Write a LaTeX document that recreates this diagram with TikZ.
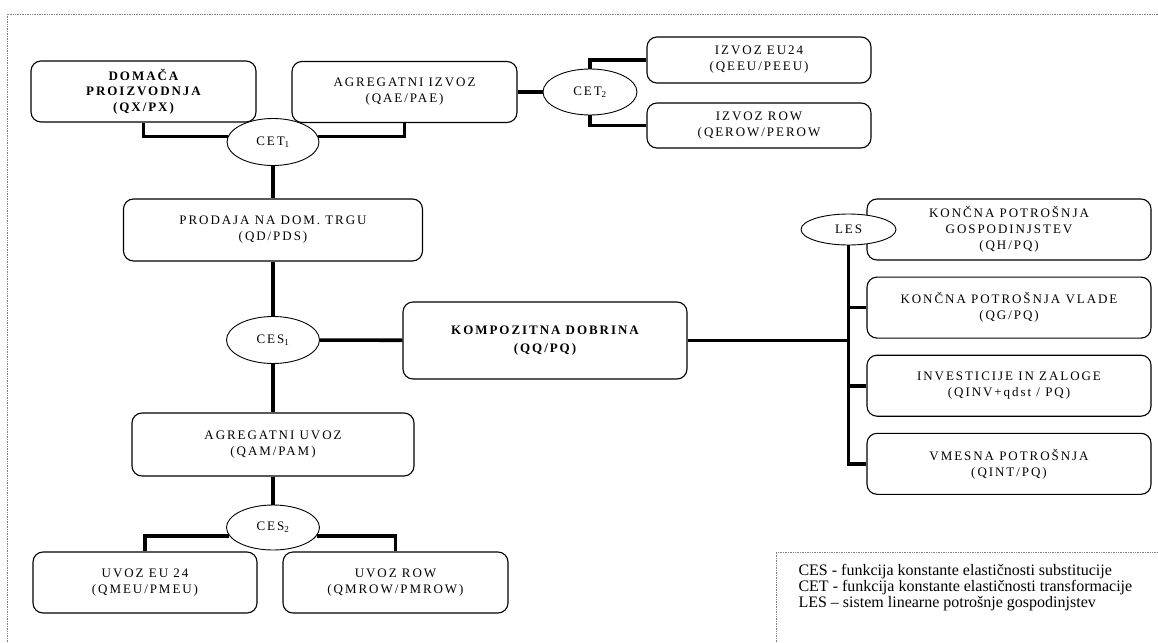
\documentclass[tikz,border=0pt]{standalone}
\usepackage{fontspec}
\setmainfont{Liberation Serif}
\newfontfamily\spaced[LetterSpace=15]{Liberation Serif}
\usetikzlibrary{shapes.geometric}
\usetikzlibrary{positioning}

\begin{document}
\begin{tikzpicture}[x=1pt, y=-1pt, node distance={16pt},
    box/.style = {draw, rounded corners=10pt, line width=1.1pt, align=center, inner sep=0pt, font=\spaced\fontsize{13}{16}\selectfont},
    oval/.style = {draw, ellipse, fill=white, line width=0.9pt, inner sep=0pt, font=\spaced\fontsize{13}{16}\selectfont},
    link/.style = {line width=3.6pt},
    frame/.style = {densely dotted, gray, line width=0.7pt}]
    \useasboundingbox (0,0) rectangle (1158,642);
    \draw[frame] (7,642) -- (7,14) -- (1158,14);
    \draw[frame] (776,642) -- (776,552) -- (1158,552);
    % export side
    \node[box, minimum width=225, minimum height=61, font=\spaced\bfseries\fontsize{13}{15.5}\selectfont] (dom) at (143.5,91.5) {DOMAČA\\PROIZVODNJA\\(QX/PX)};
    \node[box, minimum width=225, minimum height=61] (agiz) at (404.5,92) {AGREGATNI IZVOZ\\(QAE/PAE)};
    \node[oval, minimum width=92, minimum height=47] (cet1) at (273,142) {CET\textsubscript{1}};
    \node[oval, minimum width=94, minimum height=46] (cet2) at (590,92) {CET\textsubscript{2}};
    \node[box, minimum width=224, minimum height=46] (izeu) at (759,60) {IZVOZ EU24\\(QEEU/PEEU)};
    \node[box, minimum width=224, minimum height=45] (izrow) at (759,125.5) {IZVOZ ROW\\(QEROW/PEROW};
    % domestic and import side
    \node[box, minimum width=299, minimum height=62] (prod) at (273,230) {PRODAJA NA DOM. TRGU\\(QD/PDS)};
    \node[oval, minimum width=93, minimum height=47] (ces1) at (273,340) {CES\textsubscript{1}};
    \node[box, minimum width=284, minimum height=77, font=\spaced\bfseries\fontsize{13}{18}\selectfont] (komp) at (545,340.5) {KOMPOZITNA DOBRINA\\(QQ/PQ)};
    \node[box, minimum width=282, minimum height=63] (agu) at (273,444.5) {AGREGATNI UVOZ\\(QAM/PAM)};
    \node[oval, minimum width=93, minimum height=45] (ces2) at (273,527.5) {CES\textsubscript{2}};
    \node[box, minimum width=224, minimum height=61] (uveu) at (145,582.5) {UVOZ EU 24\\(QMEU/PMEU)};
    \node[box, minimum width=225, minimum height=61] (uvrow) at (395.5,582.5) {UVOZ ROW\\(QMROW/PMROW)};
    % demand side
    \node[box, minimum width=284, minimum height=61] (kgos) at (1009,229.5) {KONČNA POTROŠNJA\\GOSPODINJSTEV\\(QH/PQ)};
    \node[box, minimum width=284, minimum height=61] (kvl) [below=of kgos] {KONČNA POTROŠNJA VLADE\\(QG/PQ)};
    \node[box, minimum width=284, minimum height=61] (inv) [below=of kvl] {INVESTICIJE IN ZALOGE\\(QINV+qdst / PQ)};
    \node[box, minimum width=284, minimum height=61] (vm) [below=of inv] {VMESNA POTROŠNJA\\(QINT/PQ)};
    \node[oval, minimum width=95, minimum height=31] (les) at (848.5,229.5) {LES};
    \coordinate (hub) at (les.south |- komp.east);
    \node[align=left, anchor=west, font=\fontsize{16}{16}\selectfont] (legend) at (795,588) {CES - funkcija konstante elastičnosti substitucije\\CET - funkcija konstante elastičnosti transformacije\\LES – sistem linearne potrošnje gospodinjstev};
    % connectors
    \draw[link] (dom.south) |- (cet1.173);
    \draw[link] (agiz.south) |- (cet1.7);
    \draw[link] (cet1) -- (prod);
    \draw[link] (agiz) -- (cet2);
    \draw[link] (cet2.north) |- (izeu.west);
    \draw[link] (cet2.south) |- (izrow.west);
    \draw[link] (prod) -- (ces1);
    \draw[link] (ces1) -- (komp);
    \draw[link] (ces1) -- (agu);
    \draw[link] (agu) -- (ces2);
    \draw[link] (ces2.191) -| (uveu.north);
    \draw[link] (ces2.349) -| (uvrow.north);
    \draw[link] (komp.east) -- (hub);
    \draw[link] (les.south) |- (vm.west);
    \draw[link] (les.south |- kvl.west) -- (kvl.west);
    \draw[link] (les.south |- inv.west) -- (inv.west);
\end{tikzpicture}
\end{document}
